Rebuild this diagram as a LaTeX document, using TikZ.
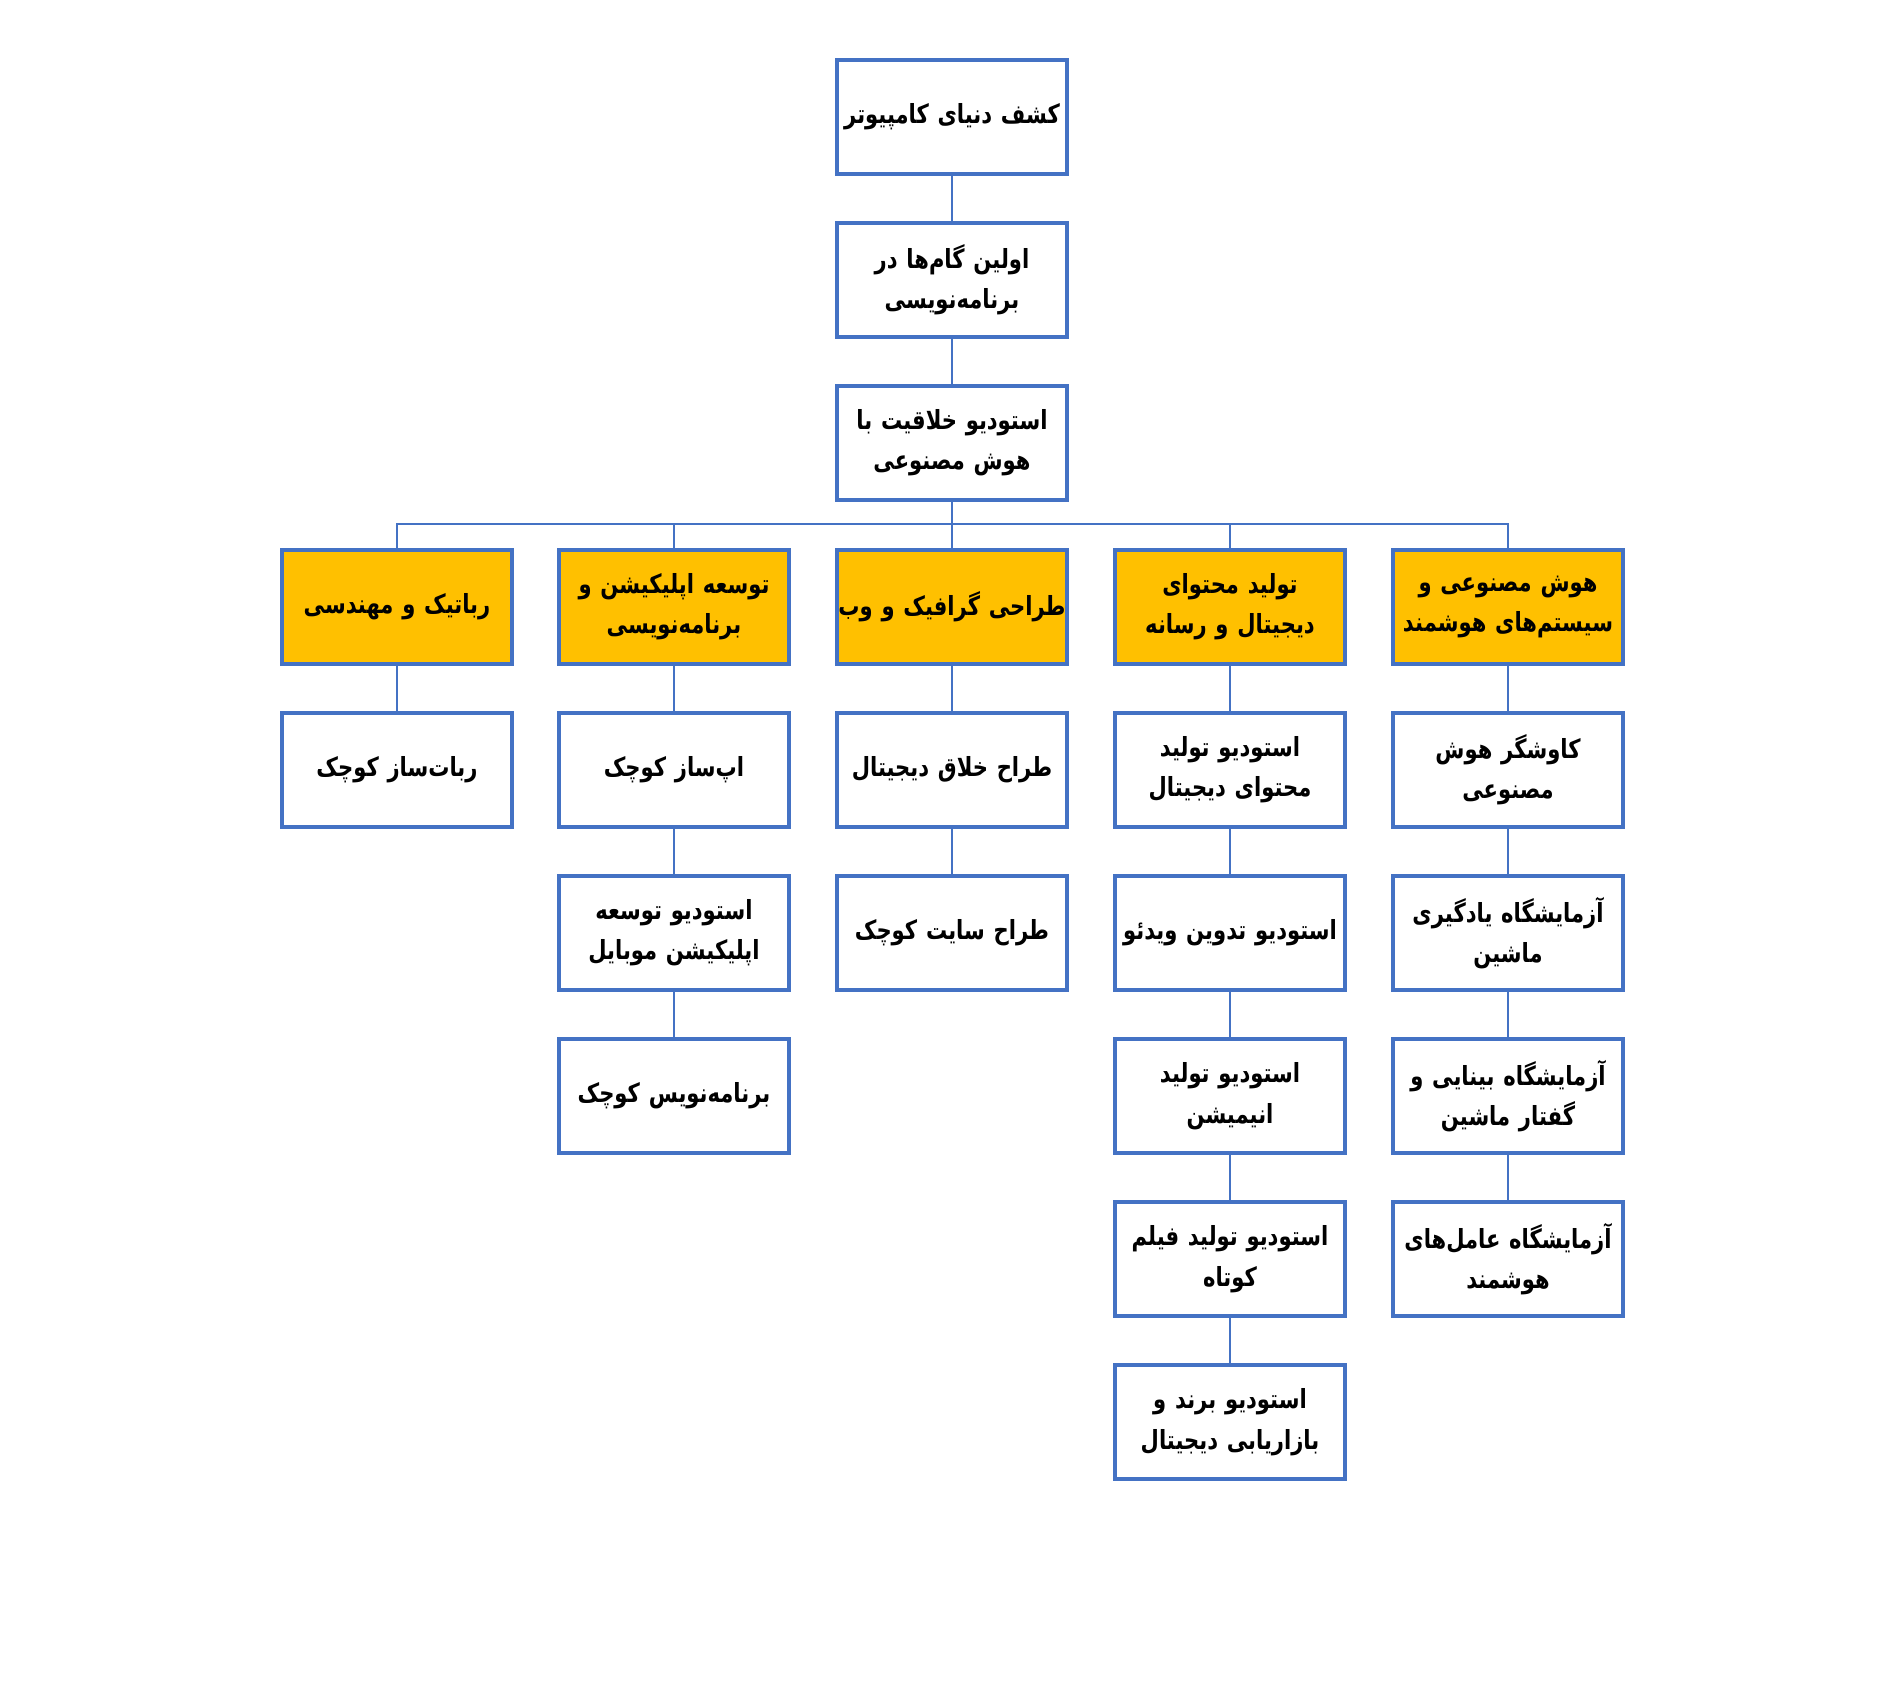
\documentclass[tikz,border=0pt]{standalone}
\usepackage{fontspec}
\usepackage{tikz}
\usetikzlibrary{positioning}
\TeXXeTstate=1
\newfontfamily\farsi[Script=Arabic,FakeStretch=0.8]{DejaVu Sans}
\definecolor{boxblue}{RGB}{68,114,196}
\definecolor{catgold}{RGB}{255,192,0}
\newcommand{\fa}[1]{\beginR #1\endR}

\begin{document}
\begin{tikzpicture}[
    every node/.style={font=\farsi\bfseries\fontsize{15}{23}\selectfont},
    course/.style={rectangle, draw=boxblue, fill=white, line width=2pt, text width=4.6cm, inner xsep=0pt, inner ysep=0.1cm, minimum height=2.28cm, align=center},
    track/.style={course, fill=catgold},
    link/.style={draw=boxblue, line width=1.5pt}
]
\useasboundingbox (0,0) rectangle (37.82,34);

% Main path
\node[course] (root) at (19.04,31.66) {\fa{کشف دنیای کامپیوتر}};
\node[course] (steps) at (19.04,28.40) {\fa{اولین گام‌ها در}\\\fa{برنامه‌نویسی}};
\node[course] (studio) at (19.04,25.14) {\fa{استودیو خلاقیت با}\\\fa{هوش مصنوعی}};

% Tracks
\node[track] (robotics) at (7.94,21.86) {\fa{رباتیک و مهندسی}};
\node[track] (apps) at (13.48,21.86) {\fa{توسعه اپلیکیشن و}\\\fa{برنامه‌نویسی}};
\node[track] (graphics) at (19.04,21.86) {\fa{طراحی گرافیک و وب}};
\node[track] (media) at (24.60,21.86) {\fa{تولید محتوای}\\\fa{دیجیتال و رسانه}};
\node[track] (ai) at (30.16,21.86) {\fa{هوش مصنوعی و}\\\fa{سیستم‌های هوشمند}};

% Robotics courses
\node[course] (robot1) at (7.94,18.60) {\fa{ربات‌ساز کوچک}};

% App courses
\node[course] (app1) at (13.48,18.60) {\fa{اپ‌ساز کوچک}};
\node[course] (app2) at (13.48,15.34) {\fa{استودیو توسعه}\\\fa{اپلیکیشن موبایل}};
\node[course] (app3) at (13.48,12.08) {\fa{برنامه‌نویس کوچک}};

% Graphics courses
\node[course] (gfx1) at (19.04,18.60) {\fa{طراح خلاق دیجیتال}};
\node[course] (gfx2) at (19.04,15.34) {\fa{طراح سایت کوچک}};

% Media courses
\node[course] (media1) at (24.60,18.60) {\fa{استودیو تولید}\\\fa{محتوای دیجیتال}};
\node[course] (media2) at (24.60,15.34) {\fa{استودیو تدوین ویدئو}};
\node[course] (media3) at (24.60,12.08) {\fa{استودیو تولید}\\\fa{انیمیشن}};
\node[course] (media4) at (24.60,8.82) {\fa{استودیو تولید فیلم}\\\fa{کوتاه}};
\node[course] (media5) at (24.60,5.56) {\fa{استودیو برند و}\\\fa{بازاریابی دیجیتال}};

% AI courses
\node[course] (ai1) at (30.16,18.60) {\fa{کاوشگر هوش}\\\fa{مصنوعی}};
\node[course] (ai2) at (30.16,15.34) {\fa{آزمایشگاه یادگیری}\\\fa{ماشین}};
\node[course] (ai3) at (30.16,12.08) {\fa{آزمایشگاه بینایی و}\\\fa{گفتار ماشین}};
\node[course] (ai4) at (30.16,8.82) {\fa{آزمایشگاه عامل‌های}\\\fa{هوشمند}};

% Main path links
\draw[link] (root) -- (steps);
\draw[link] (steps) -- (studio);

% Bus to tracks
\coordinate (bus) at (19.04,23.52);
\draw[link] (studio) -- (bus);
\draw[link] (bus) -| (robotics);
\draw[link] (bus) -| (apps);
\draw[link] (bus) -- (graphics);
\draw[link] (bus) -| (media);
\draw[link] (bus) -| (ai);

% Track links
\draw[link] (robotics) -- (robot1);
\draw[link] (apps) -- (app1);
\draw[link] (app1) -- (app2);
\draw[link] (app2) -- (app3);
\draw[link] (graphics) -- (gfx1);
\draw[link] (gfx1) -- (gfx2);
\draw[link] (media) -- (media1);
\draw[link] (media1) -- (media2);
\draw[link] (media2) -- (media3);
\draw[link] (media3) -- (media4);
\draw[link] (media4) -- (media5);
\draw[link] (ai) -- (ai1);
\draw[link] (ai1) -- (ai2);
\draw[link] (ai2) -- (ai3);
\draw[link] (ai3) -- (ai4);

\end{tikzpicture}
\end{document}
